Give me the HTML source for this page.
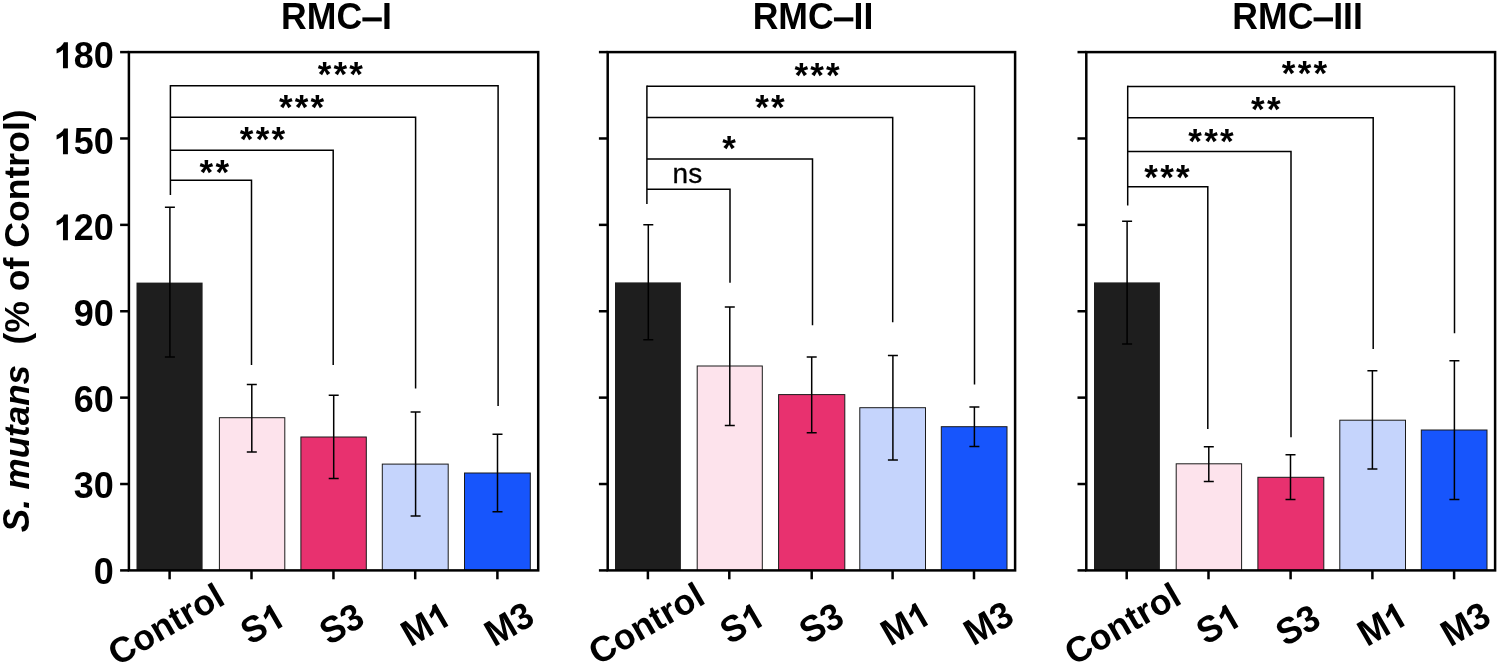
<!DOCTYPE html>
<html><head><meta charset="utf-8"><title>RMC S. mutans</title>
<style>html,body{margin:0;padding:0;background:#fff;}body{width:1499px;height:666px;overflow:hidden;}svg{display:block;will-change:transform;}text{font-family:"Liberation Sans", sans-serif;fill:#000;}</style>
</head><body>
<svg width="1499" height="666" viewBox="0 0 1499 666">
<rect x="0" y="0" width="1499" height="666" fill="#ffffff"/>
<g transform="translate(29.3,532.2) rotate(-90)" font-size="35" font-weight="bold" font-style="italic"><text transform="scale(1,1.04)">S</text><text x="23.35">. mutans</text></g>
<text transform="translate(29.3,344.5) rotate(-90)" font-size="35.6" font-weight="bold">(% of Control)</text>
<g>
<rect x="136.5" y="282.6" width="66.1" height="287.8" fill="#1e1e1e" stroke="#1a1a1a" stroke-width="0"/>
<rect x="219.4" y="417.7" width="65.4" height="152.7" fill="#fde3ec" stroke="#1a1a1a" stroke-width="1"/>
<rect x="300.9" y="437" width="65.4" height="133.4" fill="#e8316f" stroke="#1a1a1a" stroke-width="1"/>
<rect x="382.3" y="464.1" width="65.9" height="106.3" fill="#c5d4fc" stroke="#1a1a1a" stroke-width="1"/>
<rect x="464.5" y="473" width="65.8" height="97.4" fill="#1755fc" stroke="#1a1a1a" stroke-width="1"/>
<path d="M169.9 207.3V357.1M164.9 207.3H174.9M164.9 357.1H174.9" stroke="#000" stroke-width="1.5" fill="none"/>
<path d="M251.8 384.6V452.1M246.8 384.6H256.8M246.8 452.1H256.8" stroke="#000" stroke-width="1.5" fill="none"/>
<path d="M333.7 395.2V478.6M328.7 395.2H338.7M328.7 478.6H338.7" stroke="#000" stroke-width="1.5" fill="none"/>
<path d="M415.6 412V516M410.6 412H420.6M410.6 516H420.6" stroke="#000" stroke-width="1.5" fill="none"/>
<path d="M497.5 434.2V511.7M492.5 434.2H502.5M492.5 511.7H502.5" stroke="#000" stroke-width="1.5" fill="none"/>
<path d="M170.4 85.8H498.1V405.9" stroke="#000" stroke-width="1.5" fill="none"/>
<path d="M170.4 117.3H415.6V388.4" stroke="#000" stroke-width="1.5" fill="none"/>
<path d="M170.4 150.2H333.2V365.1" stroke="#000" stroke-width="1.5" fill="none"/>
<path d="M170.4 180.3H251.5V365.1" stroke="#000" stroke-width="1.5" fill="none"/>
<path d="M170.4 85.05V195" stroke="#000" stroke-width="1.5" fill="none"/>
<text x="341.4" y="85.83" text-anchor="middle" font-size="35" font-weight="bold" letter-spacing="2.2">***</text>
<text x="302.7" y="119.12" text-anchor="middle" font-size="35" font-weight="bold" letter-spacing="2.2">***</text>
<text x="263.6" y="150.72" text-anchor="middle" font-size="35" font-weight="bold" letter-spacing="2.2">***</text>
<text x="215.4" y="183.62" text-anchor="middle" font-size="35" font-weight="bold" letter-spacing="2.2">**</text>
<rect x="128.9" y="52.1" width="409.3" height="518.3" fill="none" stroke="#000" stroke-width="2.5"/>
<path d="M120.1 570.4H128.9" stroke="#000" stroke-width="2.5"/>
<text x="93.78" y="584.49" font-size="36" font-weight="bold" transform="matrix(1,0,0,1.04,0,-23.380)">0</text>
<path d="M120.1 484.02H128.9" stroke="#000" stroke-width="2.5"/>
<text x="73.77" y="498.45" font-size="36" font-weight="bold" transform="matrix(1,0,0,1.04,0,-19.938)">30</text>
<path d="M120.1 397.63H128.9" stroke="#000" stroke-width="2.5"/>
<text x="73.77" y="412.41" font-size="36" font-weight="bold" transform="matrix(1,0,0,1.04,0,-16.496)">60</text>
<path d="M120.1 311.25H128.9" stroke="#000" stroke-width="2.5"/>
<text x="73.77" y="326.37" font-size="36" font-weight="bold" transform="matrix(1,0,0,1.04,0,-13.055)">90</text>
<path d="M120.1 224.87H128.9" stroke="#000" stroke-width="2.5"/>
<path transform="translate(53.75,240.33) scale(0.01758,-0.01758)" d="M806 0H525V1059Q371 915 162 846V1101Q272 1137 401 1237.5T578 1472H806Z" fill="#000"/><text x="73.77" y="240.33" font-size="36" font-weight="bold" transform="matrix(1,0,0,1.04,0,-9.613)">20</text>
<path d="M120.1 138.48H128.9" stroke="#000" stroke-width="2.5"/>
<path transform="translate(53.75,154.29) scale(0.01758,-0.01758)" d="M806 0H525V1059Q371 915 162 846V1101Q272 1137 401 1237.5T578 1472H806Z" fill="#000"/><text x="73.77" y="154.29" font-size="36" font-weight="bold" transform="matrix(1,0,0,1.04,0,-6.172)">50</text>
<path d="M120.1 52.1H128.9" stroke="#000" stroke-width="2.5"/>
<path transform="translate(53.75,68.25) scale(0.01758,-0.01758)" d="M806 0H525V1059Q371 915 162 846V1101Q272 1137 401 1237.5T578 1472H806Z" fill="#000"/><text x="73.77" y="68.25" font-size="36" font-weight="bold" transform="matrix(1,0,0,1.04,0,-2.730)">80</text>
<path d="M169.6 570.4V579.3" stroke="#000" stroke-width="2.5"/>
<g transform="translate(165.6,623.8) rotate(-30)"><text y="12.82" text-anchor="middle" font-size="35.6" font-weight="bold" transform="scale(1)">Control</text></g>
<path d="M251.5 570.4V579.3" stroke="#000" stroke-width="2.5"/>
<g transform="translate(262.4,623.5) rotate(-30)"><text x="-21.77" y="12.82" font-size="35.6" font-weight="bold" transform="matrix(1,0,0,1.04,0,-0.513)">S</text><path transform="translate(1.98,12.82) scale(0.01738,-0.01738)" d="M806 0H525V1059Q371 915 162 846V1101Q272 1137 401 1237.5T578 1472H806Z" fill="#000"/></g>
<path d="M333.45 570.4V579.3" stroke="#000" stroke-width="2.5"/>
<g transform="translate(341.5,623.7) rotate(-30)"><text y="12.82" text-anchor="middle" font-size="35.6" font-weight="bold" transform="matrix(1,0,0,1.04,0,-0.513)">S3</text></g>
<path d="M415.2 570.4V579.3" stroke="#000" stroke-width="2.5"/>
<g transform="translate(425.6,624) rotate(-30)"><text x="-24.72" y="12.82" font-size="35.6" font-weight="bold" transform="matrix(1,0,0,1.04,0,-0.513)">M</text><path transform="translate(4.93,12.82) scale(0.01738,-0.01738)" d="M806 0H525V1059Q371 915 162 846V1101Q272 1137 401 1237.5T578 1472H806Z" fill="#000"/></g>
<path d="M497.4 570.4V579.3" stroke="#000" stroke-width="2.5"/>
<g transform="translate(508.9,623.9) rotate(-30)"><text y="12.82" text-anchor="middle" font-size="35.6" font-weight="bold" transform="matrix(1,0,0,1.04,0,-0.513)">M3</text></g>
<text x="281.12" y="28.8" font-size="35.6" font-weight="bold" transform="matrix(1,0,0,1.04,0,-1.152)">RMC</text>
<rect x="362.39" y="17.4" width="19.39" height="4" fill="#000"/>
<text x="381.98" y="28.8" font-size="35.6" font-weight="bold" transform="matrix(1,0,0,1.04,0,-1.152)">I</text>
</g>
<g>
<rect x="615" y="282.4" width="65.9" height="288" fill="#1e1e1e" stroke="#1a1a1a" stroke-width="0"/>
<rect x="697.2" y="366" width="65.1" height="204.4" fill="#fde3ec" stroke="#1a1a1a" stroke-width="1"/>
<rect x="778.6" y="394.6" width="66.2" height="175.8" fill="#e8316f" stroke="#1a1a1a" stroke-width="1"/>
<rect x="859.8" y="407.7" width="65.7" height="162.7" fill="#c5d4fc" stroke="#1a1a1a" stroke-width="1"/>
<rect x="941.3" y="426.7" width="65.7" height="143.7" fill="#1755fc" stroke="#1a1a1a" stroke-width="1"/>
<path d="M648.3 224.8V339.8M643.3 224.8H653.3M643.3 339.8H653.3" stroke="#000" stroke-width="1.5" fill="none"/>
<path d="M729.8 307V425.5M724.8 307H734.8M724.8 425.5H734.8" stroke="#000" stroke-width="1.5" fill="none"/>
<path d="M811.7 357V432.7M806.7 357H816.7M806.7 432.7H816.7" stroke="#000" stroke-width="1.5" fill="none"/>
<path d="M892.9 355.5V460M887.9 355.5H897.9M887.9 460H897.9" stroke="#000" stroke-width="1.5" fill="none"/>
<path d="M974.4 406.9V446.5M969.4 406.9H979.4M969.4 446.5H979.4" stroke="#000" stroke-width="1.5" fill="none"/>
<path d="M646.9 86.3H974.5V384.4" stroke="#000" stroke-width="1.5" fill="none"/>
<path d="M646.9 117.4H892.7V322.3" stroke="#000" stroke-width="1.5" fill="none"/>
<path d="M646.9 158.9H812.5V325.3" stroke="#000" stroke-width="1.5" fill="none"/>
<path d="M646.9 189.3H730V282.7" stroke="#000" stroke-width="1.5" fill="none"/>
<path d="M646.9 85.55V204" stroke="#000" stroke-width="1.5" fill="none"/>
<text x="818.2" y="87.38" text-anchor="middle" font-size="35" font-weight="bold" letter-spacing="2.2">***</text>
<text x="771.1" y="118.67" text-anchor="middle" font-size="35" font-weight="bold" letter-spacing="2.2">**</text>
<text x="730.1" y="160.07" text-anchor="middle" font-size="35" font-weight="bold" letter-spacing="2.2">*</text>
<text x="687.4" y="183.3" text-anchor="middle" font-size="28" stroke="#000" stroke-width="0.3">ns</text>
<rect x="607.7" y="52.1" width="407.4" height="518.3" fill="none" stroke="#000" stroke-width="2.5"/>
<path d="M598.9 570.4H607.7" stroke="#000" stroke-width="2.5"/>
<path d="M598.9 484.02H607.7" stroke="#000" stroke-width="2.5"/>
<path d="M598.9 397.63H607.7" stroke="#000" stroke-width="2.5"/>
<path d="M598.9 311.25H607.7" stroke="#000" stroke-width="2.5"/>
<path d="M598.9 224.87H607.7" stroke="#000" stroke-width="2.5"/>
<path d="M598.9 138.48H607.7" stroke="#000" stroke-width="2.5"/>
<path d="M598.9 52.1H607.7" stroke="#000" stroke-width="2.5"/>
<path d="M647.9 570.4V579.3" stroke="#000" stroke-width="2.5"/>
<g transform="translate(646,623.1) rotate(-30)"><text y="12.82" text-anchor="middle" font-size="35.6" font-weight="bold" transform="scale(1)">Control</text></g>
<path d="M729.3 570.4V579.3" stroke="#000" stroke-width="2.5"/>
<g transform="translate(742,623) rotate(-30)"><text x="-21.77" y="12.82" font-size="35.6" font-weight="bold" transform="matrix(1,0,0,1.04,0,-0.513)">S</text><path transform="translate(1.98,12.82) scale(0.01738,-0.01738)" d="M806 0H525V1059Q371 915 162 846V1101Q272 1137 401 1237.5T578 1472H806Z" fill="#000"/></g>
<path d="M811.7 570.4V579.3" stroke="#000" stroke-width="2.5"/>
<g transform="translate(821.2,623.1) rotate(-30)"><text y="12.82" text-anchor="middle" font-size="35.6" font-weight="bold" transform="matrix(1,0,0,1.04,0,-0.513)">S3</text></g>
<path d="M892.6 570.4V579.3" stroke="#000" stroke-width="2.5"/>
<g transform="translate(905.3,623.2) rotate(-30)"><text x="-24.72" y="12.82" font-size="35.6" font-weight="bold" transform="matrix(1,0,0,1.04,0,-0.513)">M</text><path transform="translate(4.93,12.82) scale(0.01738,-0.01738)" d="M806 0H525V1059Q371 915 162 846V1101Q272 1137 401 1237.5T578 1472H806Z" fill="#000"/></g>
<path d="M974 570.4V579.3" stroke="#000" stroke-width="2.5"/>
<g transform="translate(988.3,623.1) rotate(-30)"><text y="12.82" text-anchor="middle" font-size="35.6" font-weight="bold" transform="matrix(1,0,0,1.04,0,-0.513)">M3</text></g>
<text x="752.68" y="28.8" font-size="35.6" font-weight="bold" transform="matrix(1,0,0,1.04,0,-1.152)">RMC</text>
<rect x="833.94" y="17.4" width="19.39" height="4" fill="#000"/>
<text x="853.53" y="28.8" font-size="35.6" font-weight="bold" transform="matrix(1,0,0,1.04,0,-1.152)">II</text>
</g>
<g>
<rect x="1094" y="282.4" width="65.9" height="288" fill="#1e1e1e" stroke="#1a1a1a" stroke-width="0"/>
<rect x="1176.2" y="463.8" width="65.4" height="106.6" fill="#fde3ec" stroke="#1a1a1a" stroke-width="1"/>
<rect x="1257.9" y="477.3" width="65.9" height="93.1" fill="#e8316f" stroke="#1a1a1a" stroke-width="1"/>
<rect x="1339.8" y="420.2" width="65.7" height="150.2" fill="#c5d4fc" stroke="#1a1a1a" stroke-width="1"/>
<rect x="1421.3" y="430" width="65.7" height="140.4" fill="#1755fc" stroke="#1a1a1a" stroke-width="1"/>
<path d="M1127.1 221.3V344.1M1122.1 221.3H1132.1M1122.1 344.1H1132.1" stroke="#000" stroke-width="1.5" fill="none"/>
<path d="M1208.8 446.8V481.6M1203.8 446.8H1213.8M1203.8 481.6H1213.8" stroke="#000" stroke-width="1.5" fill="none"/>
<path d="M1290.5 454.8V499.6M1285.5 454.8H1295.5M1285.5 499.6H1295.5" stroke="#000" stroke-width="1.5" fill="none"/>
<path d="M1372.4 370.8V469.1M1367.4 370.8H1377.4M1367.4 469.1H1377.4" stroke="#000" stroke-width="1.5" fill="none"/>
<path d="M1454.4 360.8V499.4M1449.4 360.8H1459.4M1449.4 499.4H1459.4" stroke="#000" stroke-width="1.5" fill="none"/>
<path d="M1127.7 86.4H1454.5V333.3" stroke="#000" stroke-width="1.5" fill="none"/>
<path d="M1127.7 117.7H1373.2V348.9" stroke="#000" stroke-width="1.5" fill="none"/>
<path d="M1127.7 151.5H1291V437.2" stroke="#000" stroke-width="1.5" fill="none"/>
<path d="M1127.7 186.8H1207.8V429" stroke="#000" stroke-width="1.5" fill="none"/>
<path d="M1127.7 85.65V205.5" stroke="#000" stroke-width="1.5" fill="none"/>
<text x="1305.6" y="85.23" text-anchor="middle" font-size="35" font-weight="bold" letter-spacing="2.2">***</text>
<text x="1266.9" y="120.58" text-anchor="middle" font-size="35" font-weight="bold" letter-spacing="2.2">**</text>
<text x="1212.1" y="152.88" text-anchor="middle" font-size="35" font-weight="bold" letter-spacing="2.2">***</text>
<text x="1168.1" y="188.88" text-anchor="middle" font-size="35" font-weight="bold" letter-spacing="2.2">***</text>
<rect x="1086.3" y="52.1" width="408.8" height="518.3" fill="none" stroke="#000" stroke-width="2.5"/>
<path d="M1077.5 570.4H1086.3" stroke="#000" stroke-width="2.5"/>
<path d="M1077.5 484.02H1086.3" stroke="#000" stroke-width="2.5"/>
<path d="M1077.5 397.63H1086.3" stroke="#000" stroke-width="2.5"/>
<path d="M1077.5 311.25H1086.3" stroke="#000" stroke-width="2.5"/>
<path d="M1077.5 224.87H1086.3" stroke="#000" stroke-width="2.5"/>
<path d="M1077.5 138.48H1086.3" stroke="#000" stroke-width="2.5"/>
<path d="M1077.5 52.1H1086.3" stroke="#000" stroke-width="2.5"/>
<path d="M1126.7 570.4V579.3" stroke="#000" stroke-width="2.5"/>
<g transform="translate(1122.1,623.3) rotate(-30)"><text y="12.82" text-anchor="middle" font-size="35.6" font-weight="bold" transform="scale(1)">Control</text></g>
<path d="M1208.5 570.4V579.3" stroke="#000" stroke-width="2.5"/>
<g transform="translate(1218.2,623.6) rotate(-30)"><text x="-21.77" y="12.82" font-size="35.6" font-weight="bold" transform="matrix(1,0,0,1.04,0,-0.513)">S</text><path transform="translate(1.98,12.82) scale(0.01738,-0.01738)" d="M806 0H525V1059Q371 915 162 846V1101Q272 1137 401 1237.5T578 1472H806Z" fill="#000"/></g>
<path d="M1290.6 570.4V579.3" stroke="#000" stroke-width="2.5"/>
<g transform="translate(1297.7,624.9) rotate(-30)"><text y="12.82" text-anchor="middle" font-size="35.6" font-weight="bold" transform="matrix(1,0,0,1.04,0,-0.513)">S3</text></g>
<path d="M1372.4 570.4V579.3" stroke="#000" stroke-width="2.5"/>
<g transform="translate(1382,623.8) rotate(-30)"><text x="-24.72" y="12.82" font-size="35.6" font-weight="bold" transform="matrix(1,0,0,1.04,0,-0.513)">M</text><path transform="translate(4.93,12.82) scale(0.01738,-0.01738)" d="M806 0H525V1059Q371 915 162 846V1101Q272 1137 401 1237.5T578 1472H806Z" fill="#000"/></g>
<path d="M1454.1 570.4V579.3" stroke="#000" stroke-width="2.5"/>
<g transform="translate(1465.2,623.9) rotate(-30)"><text y="12.82" text-anchor="middle" font-size="35.6" font-weight="bold" transform="matrix(1,0,0,1.04,0,-0.513)">M3</text></g>
<text x="1232.33" y="28.8" font-size="35.6" font-weight="bold" transform="matrix(1,0,0,1.04,0,-1.152)">RMC</text>
<rect x="1313.59" y="17.4" width="19.39" height="4" fill="#000"/>
<text x="1333.18" y="28.8" font-size="35.6" font-weight="bold" transform="matrix(1,0,0,1.04,0,-1.152)">III</text>
</g>
</svg>
</body></html>
